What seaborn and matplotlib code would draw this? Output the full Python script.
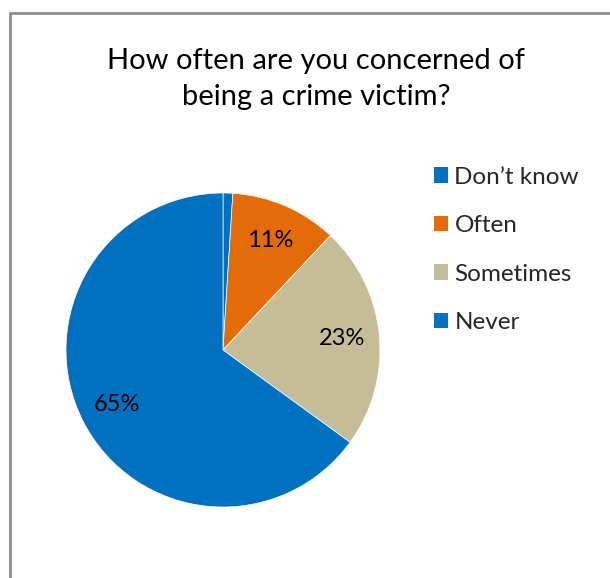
import matplotlib
matplotlib.use("Agg")
import matplotlib.pyplot as plt
from matplotlib.patches import Patch
from matplotlib.lines import Line2D
import seaborn as sns

categories = ["Don\u2019t know", "Often", "Sometimes", "Never"]
shares = [1, 11, 23, 65]
colors = ["#0070C0", "#E36C09", "#C4BD97", "#0070C0"]
title = "How often are you concerned of\nbeing a crime victim?"

sns.set_theme(style="white")
plt.rcParams["font.family"] = ["Lato", "DejaVu Sans"]

fig = plt.figure(figsize=(6.10, 5.78), dpi=100)
fig.patch.set_facecolor("white")

# chart frame (left and top edges visible)
fig.add_artist(Line2D([10 / 610, 10 / 610], [0, 1 - 13 / 578], color="#8c8c8c", lw=2,
                      transform=fig.transFigure))
fig.add_artist(Line2D([10 / 610, 1], [1 - 13 / 578, 1 - 13 / 578], color="#8c8c8c", lw=2,
                      transform=fig.transFigure))

ax = fig.add_axes([66 / 610, 71 / 578, 314 / 610, 314 / 578])


def fmt(p):
    return f"{p:.0f}%" if p >= 5 else ""


wedges, texts, autotexts = ax.pie(
    shares, colors=colors, startangle=90, counterclock=False,
    autopct=fmt, pctdistance=0.76,
    wedgeprops=dict(edgecolor="white", linewidth=0.5),
    textprops=dict(fontsize=17, color="black"),
)
ax.set_aspect("equal")
ax.set_xlim(-1, 1)
ax.set_ylim(-1, 1)

fig.text(316 / 610, 1 - 79 / 578, title, ha="center", va="center",
         fontsize=21, linespacing=1.45, color="black")

handles = [Patch(facecolor=c, edgecolor="none") for c in colors]
fig.legend(handles, categories, loc="upper left",
           bbox_to_anchor=(424 / 610, 1 - 157 / 578), frameon=False,
           fontsize=17.5, handlelength=0.6, handleheight=0.6,
           handletextpad=0.25, labelspacing=1.13, borderaxespad=0)

fig.savefig("out.png", dpi=100, facecolor="white")
